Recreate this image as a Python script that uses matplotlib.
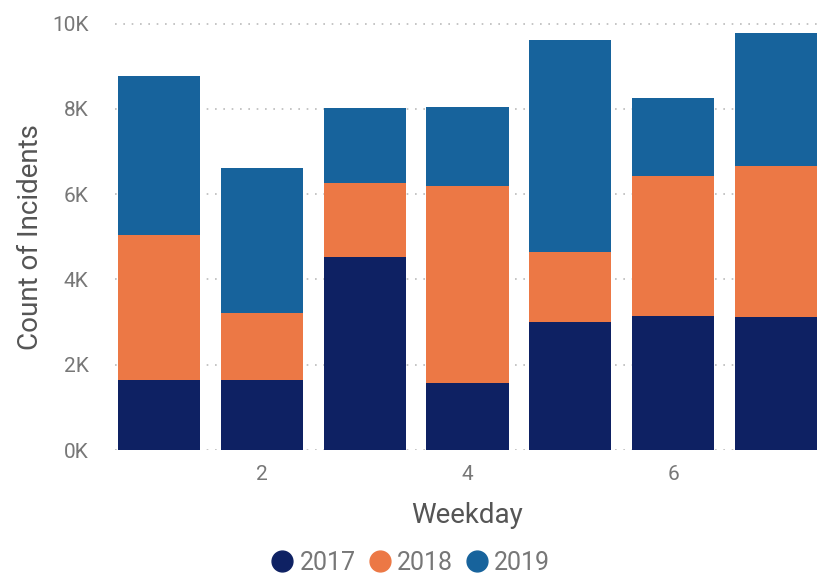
import numpy as np
import matplotlib.pyplot as plt
from matplotlib.lines import Line2D

plt.rcParams['font.family'] = ['Roboto', 'DejaVu Sans']

# weekday 1..7, incident counts per year (stacked)
weekdays = [1, 2, 3, 4, 5, 6, 7]
years = ['2017', '2018', '2019']
count_2017 = [1640, 1640, 4530, 1580, 2990, 3150, 3130]
count_2018 = [3410, 1580, 1740, 4620, 1660, 3270, 3520]
count_2019 = [3710, 3400, 1760, 1840, 4970, 1840, 3120]
colors = ['#0e2163', '#ec7845', '#17639c']

W, H = 820, 581
fig = plt.figure(figsize=(W / 100, H / 100), dpi=100)
ax = fig.add_axes([115 / W, (H - 450) / H, 705 / W, 435 / H])

bottom = np.zeros(len(weekdays))
for vals, col in zip([count_2017, count_2018, count_2019], colors):
    ax.bar(weekdays, vals, width=0.8, bottom=bottom, color=col, zorder=2)
    bottom += np.array(vals)

ax.set_xlim(0.571, 7.43)
ax.set_ylim(0, 10200)
ax.set_yticks(range(0, 10001, 2000))
ax.set_yticklabels([f'{v // 1000}K' for v in range(0, 10001, 2000)])
ax.set_xticks([2, 4, 6])
ax.tick_params(length=0, labelsize=15, labelcolor='#777777')
ax.tick_params(axis='y', pad=19)
ax.tick_params(axis='x', pad=11)
ax.yaxis.grid(True, linestyle=(0, (1, 4)), color='#bbbbbb', linewidth=1.2, zorder=0)
ax.set_axisbelow(True)
for s in ax.spines.values():
    s.set_visible(False)

ax.set_xlabel('Weekday', fontsize=20, color='#555555', labelpad=13)
fig.text(31 / W, 1 - 237 / H, 'Count of Incidents', rotation=90, fontsize=20,
         color='#555555', ha='center', va='center')

handles = [Line2D([], [], marker='o', linestyle='', markersize=15, color=c) for c in colors]
fig.legend(handles, years, loc='center', bbox_to_anchor=(410 / W, 1 - 563 / H),
           ncol=3, frameon=False, fontsize=18, handlelength=1.0, handletextpad=0.2,
           columnspacing=0.45, labelcolor='#777777')

fig.savefig('out.png', dpi=100)
